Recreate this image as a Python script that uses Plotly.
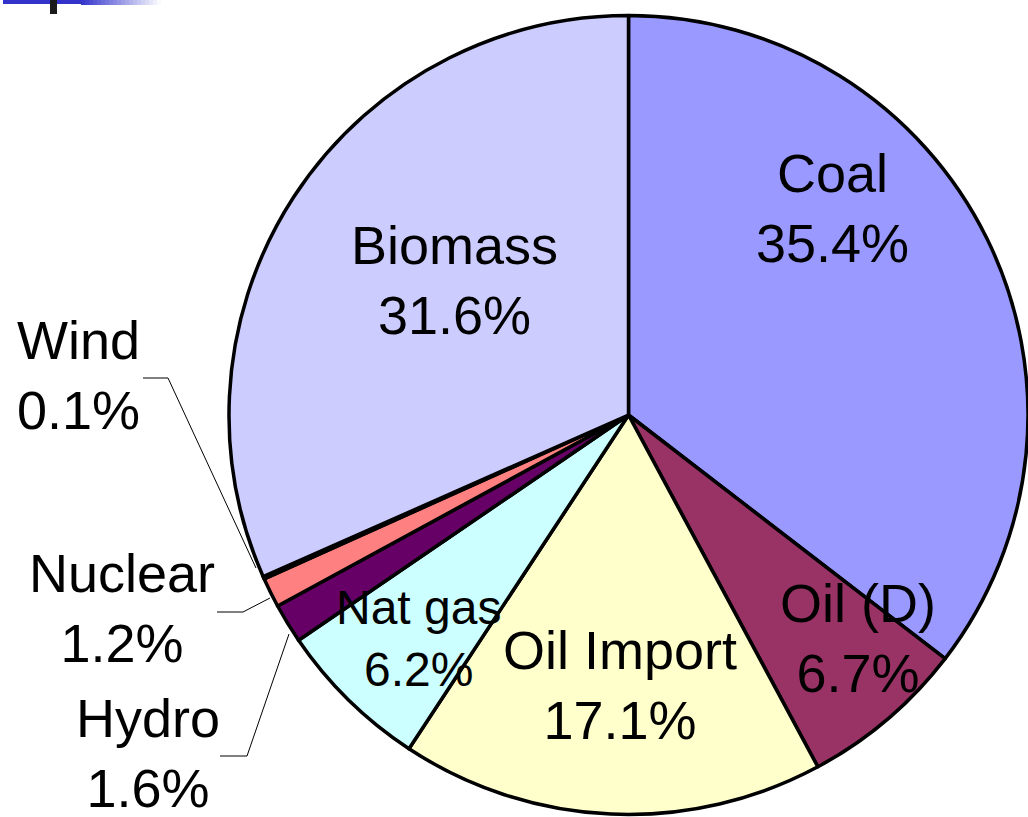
import plotly.graph_objects as go

# ---- data ----
labels = ["Coal", "Oil (D)", "Oil Import", "Nat gas", "Hydro", "Nuclear", "Wind", "Biomass"]
values = [35.4, 6.7, 17.1, 6.2, 1.6, 1.2, 0.1, 31.6]
colors = ["#9999FF", "#993366", "#FFFFCC", "#CCFFFF", "#660066", "#FF8080", "#FFFFFF", "#CCCCFF"]

W, H = 1028, 817

def px(x):
    return x / W

def py(y):
    return 1 - y / H

fig = go.Figure()
fig.add_trace(go.Pie(
    labels=labels,
    values=values,
    sort=False,
    direction="clockwise",
    rotation=0,
    marker=dict(colors=colors, line=dict(color="#000000", width=3.5)),
    textinfo="none",
    showlegend=False,
    domain=dict(x=[px(229), 1.0], y=[py(815), py(15)]),
))

# label positions (pixel centres of the two-line label blocks)
label_pos = {
    "Coal": (832, 208, 54),
    "Biomass": (454, 280, 54),
    "Oil (D)": (858, 638, 54),
    "Oil Import": (620, 685, 54),
    "Nat gas": (418, 638, 48),
    "Wind": (78, 375, 54),
    "Nuclear": (122, 608, 54),
    "Hydro": (148, 753, 54),
}

annotations = []
for lab, val in zip(labels, values):
    x, y, fs = label_pos[lab]
    annotations.append(dict(
        x=px(x), y=py(y), xref="paper", yref="paper",
        text=f"{lab}<br>{val:.1f}%",
        showarrow=False, xanchor="center", yanchor="middle",
        font=dict(family="Liberation Sans, Arial, sans-serif", size=fs, color="#000000"),
    ))

shapes = []
# leader lines
leaders = [
    [(143, 378), (168, 378), (256, 568)],
    [(217, 612), (243, 612), (270, 598)],
    [(220, 756), (247, 756), (289, 634)],
]
for pts in leaders:
    for (x0, y0), (x1, y1) in zip(pts[:-1], pts[1:]):
        shapes.append(dict(type="line", xref="paper", yref="paper",
                           x0=px(x0), y0=py(y0), x1=px(x1), y1=py(y1),
                           line=dict(color="#000000", width=1)))

# slide decoration in top-left corner
shapes.append(dict(type="rect", xref="paper", yref="paper",
                   x0=px(3), x1=px(81), y0=py(4), y1=py(0),
                   line=dict(width=0), fillcolor="#3333CC"))
n = 20
for i in range(n):
    x0 = 81 + i * 4
    op = 1 - (i + 0.5) / n
    shapes.append(dict(type="rect", xref="paper", yref="paper",
                       x0=px(x0), x1=px(x0 + 4), y0=py(5), y1=py(0),
                       line=dict(width=0), fillcolor="#3333CC", opacity=op))
shapes.append(dict(type="rect", xref="paper", yref="paper",
                   x0=px(50), x1=px(57), y0=py(14), y1=py(0),
                   line=dict(width=0), fillcolor="#1A1A1A"))

fig.update_layout(
    width=W, height=H,
    margin=dict(l=0, r=0, t=0, b=0),
    paper_bgcolor="#FFFFFF",
    plot_bgcolor="#FFFFFF",
    annotations=annotations,
    shapes=shapes,
)

fig.write_html("out.html",
               config={"displayModeBar": False},
               post_script="document.body.style.margin='0';document.body.style.overflow='hidden';")
